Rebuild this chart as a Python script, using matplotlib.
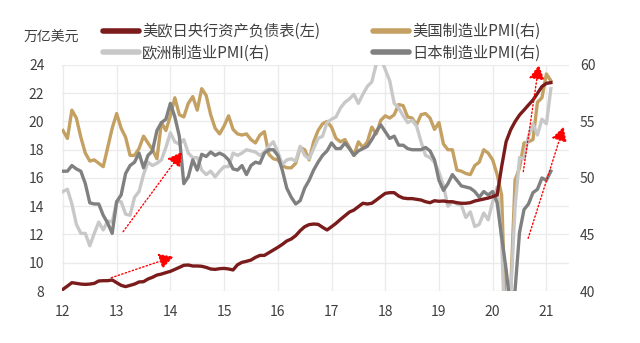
import numpy as np
import matplotlib
matplotlib.use("Agg")
import matplotlib.pyplot as plt
from matplotlib.lines import Line2D

plt.rcParams['font.family'] = ['Noto Sans CJK SC', 'DejaVu Sans']

# monthly, Jan 2012 .. Feb 2021
balance_sheet = [
    8.12, 8.35, 8.59, 8.54, 8.49, 8.47, 8.49, 8.54, 8.71, 8.73, 8.73, 8.78,
    8.59, 8.40, 8.31, 8.40, 8.49, 8.64, 8.66, 8.85, 8.97, 9.13, 9.20, 9.30,
    9.39, 9.53, 9.67, 9.82, 9.84, 9.77, 9.77, 9.75, 9.67, 9.56, 9.53, 9.58,
    9.60, 9.56, 9.49, 9.86, 10.03, 10.10, 10.19, 10.38, 10.52, 10.52, 10.71, 10.90,
    11.09, 11.30, 11.54, 11.68, 11.92, 12.27, 12.55, 12.70, 12.74, 12.72, 12.51, 12.32,
    12.55, 12.79, 13.07, 13.33, 13.59, 13.73, 13.97, 14.21, 14.16, 14.21, 14.44, 14.68,
    14.91, 14.96, 14.96, 14.72, 14.58, 14.54, 14.54, 14.49, 14.44, 14.32, 14.25, 14.39,
    14.35, 14.37, 14.32, 14.32, 14.25, 14.21, 14.21, 14.25, 14.37, 14.44, 14.51, 14.58,
    14.68, 14.80, 16.80, 18.57, 19.40, 19.99, 20.46, 20.81, 21.17, 21.52, 21.99, 22.47,
    22.70, 22.75,
]
us_pmi = [
    54.2, 53.5, 56.0, 55.3, 53.6, 52.2, 51.5, 51.6, 51.3, 51.0, 52.7, 54.4,
    55.7, 54.4, 53.6, 52.0, 52.0, 52.6, 53.7, 53.1, 52.5, 51.7, 54.9, 54.2,
    55.5, 57.1, 55.6, 55.4, 56.6, 57.2, 56.0, 57.9, 57.3, 55.6, 54.4, 53.9,
    54.6, 55.5, 54.3, 53.9, 53.8, 53.9, 53.4, 53.1, 53.8, 54.1, 52.1, 51.7,
    51.6, 51.1, 50.9, 50.9, 51.3, 52.7, 52.5, 51.6, 53.2, 54.2, 54.8, 55.0,
    54.5, 53.5, 53.2, 53.4, 52.7, 52.0, 53.2, 52.7, 53.2, 54.5, 53.9, 55.1,
    55.5, 55.3, 55.6, 56.5, 56.4, 55.4, 55.3, 54.7, 55.6, 55.7, 55.3, 54.3,
    54.9, 53.0, 52.5, 52.5, 50.7, 50.6, 50.4, 50.3, 51.1, 51.4, 52.5, 52.2,
    51.6, 50.3, 48.5, 36.1, 39.8, 49.8, 50.9, 53.1, 53.2, 53.4, 56.7, 57.1,
    59.2, 58.6,
]
euro_pmi = [
    48.8, 49.0, 47.7, 45.9, 45.1, 45.1, 44.0, 45.1, 46.1, 45.4, 46.2, 46.1,
    47.9, 47.9, 46.8, 46.7, 48.3, 48.8, 50.3, 51.4, 51.1, 51.3, 51.6, 52.7,
    54.0, 53.2, 53.0, 53.4, 52.2, 51.8, 51.8, 50.7, 50.3, 50.6, 50.1, 50.6,
    51.0, 51.0, 52.2, 52.0, 52.2, 52.5, 52.4, 52.3, 52.0, 52.3, 52.8, 53.2,
    52.3, 51.2, 51.6, 51.7, 51.5, 52.8, 52.0, 51.7, 52.6, 53.5, 53.7, 54.9,
    55.2, 55.4, 56.2, 56.7, 57.0, 57.4, 56.6, 57.4, 58.1, 58.5, 60.1, 60.6,
    59.6, 58.6, 56.6, 56.2, 55.5, 54.9, 55.1, 54.6, 53.2, 52.0, 51.8, 51.4,
    50.5, 49.3, 47.5, 47.9, 47.7, 47.6, 46.5, 47.0, 45.7, 45.9, 46.9, 46.3,
    47.9, 49.2, 44.5, 33.4, 39.4, 47.4, 51.8, 51.7, 53.7, 54.8, 53.8, 55.2,
    54.8, 57.9,
]
japan_pmi = [
    50.6, 50.6, 51.1, 50.8, 50.6, 49.5, 47.8, 47.7, 47.7, 46.7, 46.0, 45.1,
    47.9, 48.5, 50.4, 51.1, 51.4, 52.2, 50.9, 52.0, 52.4, 54.2, 54.9, 55.2,
    56.6, 55.4, 53.7, 49.5, 50.1, 51.6, 50.7, 52.1, 51.9, 52.3, 52.0, 52.2,
    52.0, 51.6, 50.8, 50.7, 51.1, 50.3, 51.1, 51.4, 51.3, 52.2, 52.5, 52.5,
    52.0, 50.7, 49.1, 48.3, 47.7, 48.0, 49.1, 49.8, 50.7, 51.4, 52.0, 52.4,
    53.1, 52.6, 52.6, 53.1, 52.6, 52.0, 52.4, 52.6, 52.8, 53.4, 54.1, 54.7,
    54.1, 53.5, 53.7, 52.9, 52.9, 52.6, 52.5, 52.5, 52.5, 52.7, 52.4, 51.6,
    49.8, 48.9, 49.5, 50.3, 49.8, 49.3, 49.2, 49.1, 48.8, 48.3, 48.8, 48.5,
    48.8, 47.8, 44.8, 41.9, 38.4, 40.1, 45.2, 47.2, 47.7, 48.7, 49.0, 50.0,
    49.8, 50.6,
]

year_ticks = [12, 13, 14, 15, 16, 17, 18, 19, 20, 21]
left_ticks = [8, 10, 12, 14, 16, 18, 20, 22, 24]
right_ticks = [40, 45, 50, 55, 60]

labels = ['美欧日央行资产负债表(左)', '欧洲制造业PMI(右)', '美国制造业PMI(右)', '日本制造业PMI(右)']
colors = ['#7b1c1c', '#c8c8c8', '#c4a062', '#808080']

# trend arrows, (start, end) in left-axis units
trend_arrows = [
    ((12.9, 8.94), (14.06, 10.43)),
    ((13.12, 12.2), (14.22, 17.86)),
    ((20.57, 16.45), (20.86, 24.0)),
    ((20.66, 11.73), (21.32, 19.63)),
]

t = 12 + np.arange(len(balance_sheet)) / 12.0
text_color = '#404040'

fig = plt.figure(figsize=(6.4, 3.43), dpi=100)
rect = [0.0975, 0.1516, 0.7915, 0.659]
ax = fig.add_axes(rect)
ax2 = ax.twinx()
top = fig.add_axes(rect, sharex=ax, sharey=ax)
top.axis('off')

ax.set_xlim(11.99, 21.42)
ax.set_ylim(8, 24)
ax2.set_ylim(40, 60)
ax.set_xticks(year_ticks)
ax.set_xticklabels([str(y) for y in year_ticks])
ax.set_yticks(left_ticks)
ax2.set_yticks(right_ticks)
ax.grid(True, color='#ebebeb', lw=1)
ax.set_axisbelow(True)
for a in (ax, ax2):
    for s in a.spines.values():
        s.set_visible(False)
ax.tick_params(axis='y', length=0, pad=13, labelsize=10, labelcolor=text_color)
ax.tick_params(axis='x', length=0, pad=10, labelsize=10, labelcolor=text_color)
ax2.tick_params(axis='y', length=0, pad=8, labelsize=10, labelcolor=text_color)

ax2.plot(t, us_pmi, color=colors[2], lw=2.4)
ax2.plot(t, euro_pmi, color=colors[1], lw=2.4)
ax2.plot(t, japan_pmi, color=colors[3], lw=2.4)
top.plot(t, balance_sheet, color=colors[0], lw=2.4)

for start, end in trend_arrows:
    top.annotate('', xy=end, xytext=start, annotation_clip=False,
                 arrowprops=dict(arrowstyle='-|>,head_length=0.55,head_width=0.3',
                                 color='red', lw=1, linestyle=':',
                                 mutation_scale=16, shrinkA=0, shrinkB=0))

fig.text(24 / 640, 1 - 38 / 343, '万亿美元', fontsize=10, color=text_color, va='center')

handles = [Line2D([], [], color=c, lw=4, solid_capstyle='round') for c in colors]
fig.legend(handles, labels, ncol=2, loc='upper left', bbox_to_anchor=(103 / 640, 1 - 23 / 343),
           frameon=False, fontsize=11, handlelength=2.35, handletextpad=0.2,
           columnspacing=3.5, labelspacing=0.3, borderpad=0, borderaxespad=0,
           labelcolor=text_color)

fig.savefig('out.png', dpi=100)
